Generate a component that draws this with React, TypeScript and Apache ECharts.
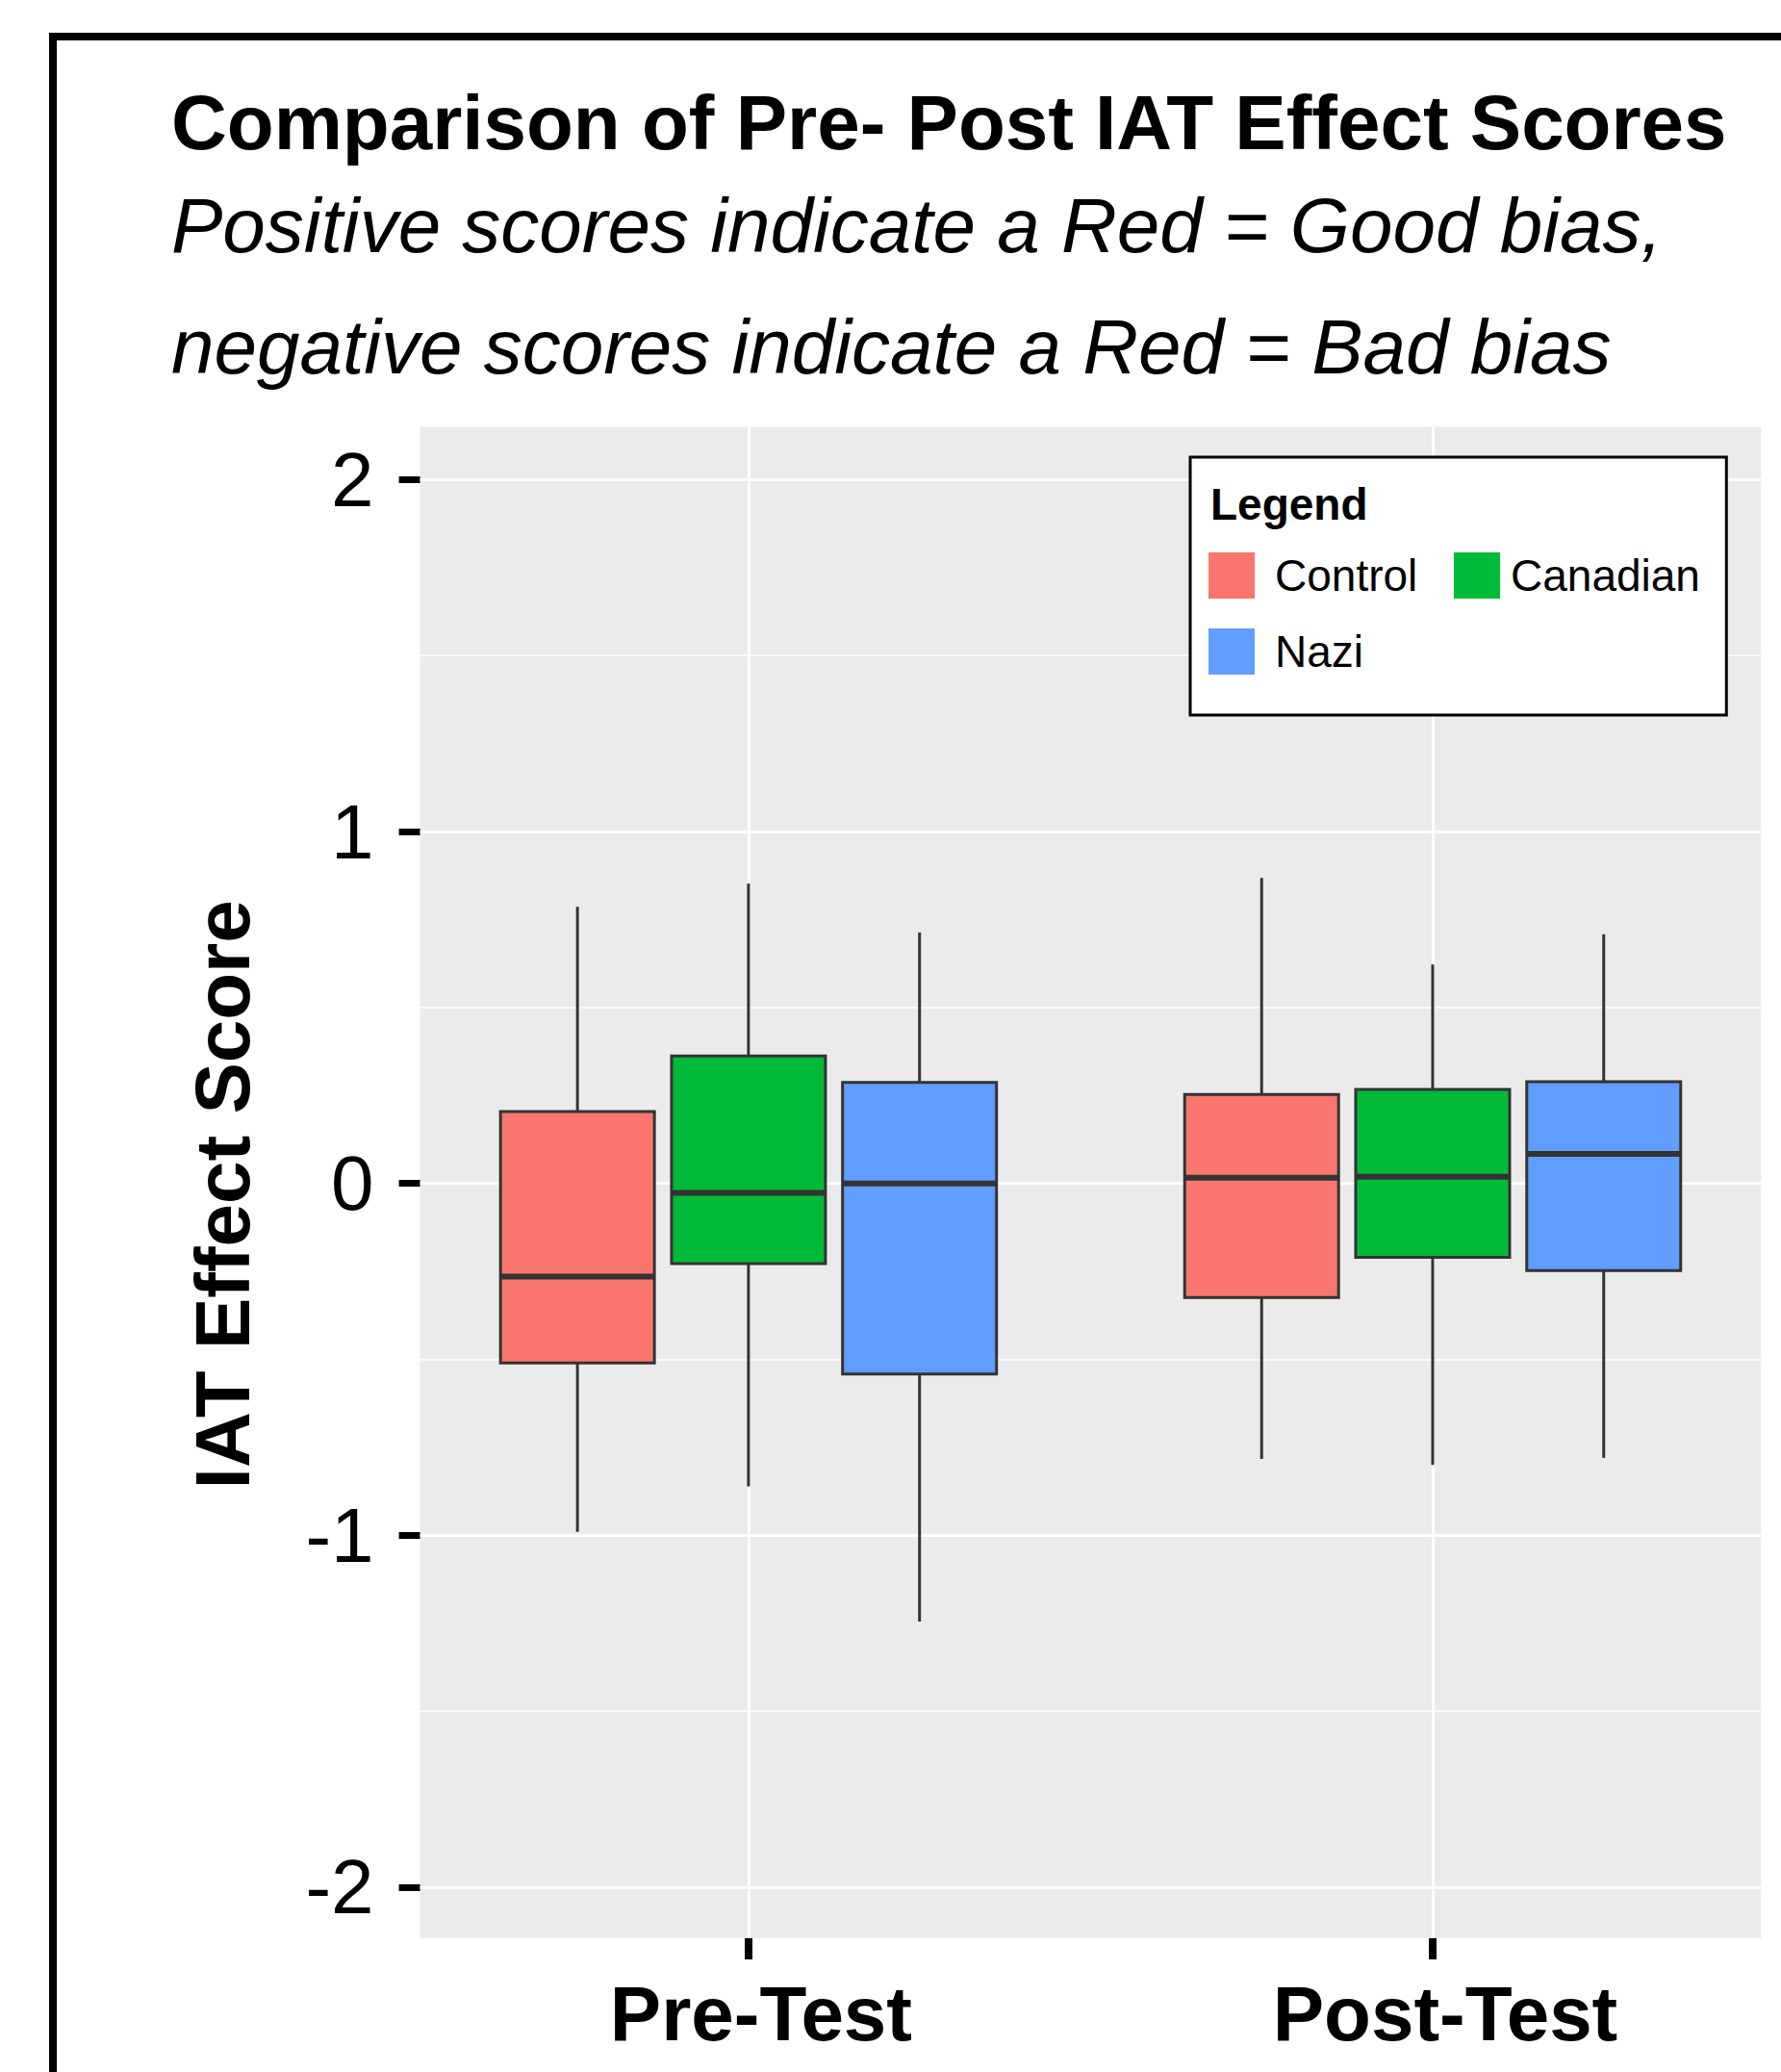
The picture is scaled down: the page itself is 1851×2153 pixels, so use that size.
import React, { useEffect, useRef } from 'react';
import * as echarts from 'echarts';

const FONT = '"Liberation Sans", Arial, Helvetica, sans-serif';

const categories = ['Pre-Test', 'Post-Test'];
const groups = ['Control', 'Canadian', 'Nazi'];
const groupColors = ['#F8766D', '#00BA38', '#619CFF'];
// [min, Q1, median, Q3, max] for Pre-Test and Post-Test
const controlStats = [
  [-0.99, -0.51, -0.265, 0.204, 0.786],
  [-0.783, -0.324, 0.016, 0.253, 0.868],
];
const canadianStats = [
  [-0.861, -0.228, -0.027, 0.362, 0.852],
  [-0.8, -0.21, 0.019, 0.267, 0.622],
];
const naziStats = [
  [-1.245, -0.542, 0.0, 0.287, 0.713],
  [-0.78, -0.248, 0.084, 0.289, 0.708],
];
const yTicks = [-2, -1, 0, 1, 2];
const yMinorGrid = [-1.5, -0.5, 0.5, 1.5];
const xTicks = [0, 1];

const titleText = 'Comparison of Pre- Post IAT Effect Scores';
const subtitleText =
  'Positive scores indicate a Red = Good bias,\nnegative scores indicate a Red = Bad bias';
const yAxisTitle = 'IAT Effect Score';
const legendTitle = 'Legend';

const DODGE = 0.25;
const BOX_W = 0.225;

export default function App() {
  const ref = useRef<HTMLDivElement>(null);

  useEffect(() => {
    if (!ref.current) return;
    const chart = echarts.init(ref.current, null, { renderer: 'svg' });
    const allStats = [controlStats, canadianStats, naziStats];

    const boxSeries = groups.map((g, gi) => ({
      type: 'custom',
      name: g,
      z: 3,
      itemStyle: { color: groupColors[gi] },
      encode: { x: 0, y: [1, 2, 3, 4, 5] },
      data: allStats[gi].map((s, ci) => [ci, ...s]),
      renderItem: (params: any, api: any) => {
        const x = api.value(0) + (gi - 1) * DODGE;
        const lo = api.coord([x, api.value(1)]);
        const q1 = api.coord([x, api.value(2)]);
        const med = api.coord([x, api.value(3)]);
        const q3 = api.coord([x, api.value(4)]);
        const hi = api.coord([x, api.value(5)]);
        const half = api.size([BOX_W, 0])[0] / 2;
        const stroke = '#333333';
        return {
          type: 'group',
          children: [
            {
              type: 'line',
              shape: { x1: hi[0], y1: hi[1], x2: q3[0], y2: q3[1] },
              style: { stroke, lineWidth: 3 },
            },
            {
              type: 'line',
              shape: { x1: q1[0], y1: q1[1], x2: lo[0], y2: lo[1] },
              style: { stroke, lineWidth: 3 },
            },
            {
              type: 'rect',
              shape: { x: q3[0] - half, y: q3[1], width: half * 2, height: q1[1] - q3[1] },
              style: { fill: groupColors[gi], stroke, lineWidth: 3 },
            },
            {
              type: 'line',
              shape: { x1: med[0] - half, y1: med[1], x2: med[0] + half, y2: med[1] },
              style: { stroke, lineWidth: 6 },
            },
          ],
        };
      },
    }));

    const gridLineSeries = [
      {
        type: 'line',
        name: '_minor',
        data: [],
        silent: true,
        markLine: {
          silent: true,
          z: 1,
          symbol: ['none', 'none'],
          label: { show: false },
          lineStyle: { color: '#FFFFFF', width: 1.5, type: 'solid' },
          data: yMinorGrid.map((v) => ({ yAxis: v })),
        },
      },
      {
        type: 'line',
        name: '_major',
        data: [],
        silent: true,
        markLine: {
          silent: true,
          z: 1,
          symbol: ['none', 'none'],
          label: { show: false },
          lineStyle: { color: '#FFFFFF', width: 3, type: 'solid' },
          data: [
            ...yTicks.map((v) => ({ yAxis: v })),
            ...xTicks.map((v) => ({ xAxis: v })),
          ],
        },
      },
    ];

    const legendText = { fontFamily: FONT, fontSize: 46, color: '#000000' };

    chart.setOption({
      animation: false,
      backgroundColor: '#FFFFFF',
      title: {
        text: titleText,
        subtext: subtitleText,
        left: 178,
        top: 87,
        padding: 0,
        itemGap: 4,
        textStyle: {
          fontFamily: FONT,
          fontSize: 80,
          fontWeight: 'bold',
          color: '#000000',
          lineHeight: 80,
        },
        subtextStyle: {
          fontFamily: FONT,
          fontSize: 80,
          fontStyle: 'italic',
          color: '#000000',
          lineHeight: 126,
        },
      },
      grid: {
        left: 436.6,
        right: 20.7,
        top: 443.5,
        bottom: 139,
        show: true,
        backgroundColor: '#EBEBEB',
        borderWidth: 0,
        containLabel: false,
      },
      xAxis: {
        type: 'value',
        min: -0.48,
        max: 1.48,
        position: 'bottom',
        axisLine: { show: false, onZero: false },
        splitLine: { show: false },
        axisTick: {
          show: true,
          length: 22,
          customValues: xTicks,
          lineStyle: { color: '#000000', width: 8 },
        },
        axisLabel: {
          customValues: xTicks,
          formatter: (v: number) => categories[Math.round(v)] ?? '',
          fontFamily: FONT,
          fontSize: 80,
          fontWeight: 'bold',
          color: '#000000',
          margin: 38,
          lineHeight: 80,
          padding: [0, 0, 0, 26],
        },
      },
      yAxis: {
        type: 'value',
        min: -2.145,
        max: 2.15,
        position: 'left',
        name: yAxisTitle,
        nameLocation: 'middle',
        nameRotate: 90,
        nameGap: 165,
        nameTextStyle: {
          fontFamily: FONT,
          fontSize: 80,
          fontWeight: 'bold',
          color: '#000000',
          lineHeight: 80,
          padding: [0, 25, 0, 0],
        },
        axisLine: { show: false, onZero: false },
        splitLine: { show: false },
        axisTick: {
          show: true,
          length: 22,
          customValues: yTicks,
          lineStyle: { color: '#000000', width: 7 },
        },
        axisLabel: {
          customValues: yTicks,
          fontFamily: FONT,
          fontSize: 80,
          color: '#000000',
          margin: 48,
          lineHeight: 80,
          padding: [0, 0, 14, 0],
        },
      },
      legend: [
        {
          left: 1237,
          top: 475,
          orient: 'vertical',
          padding: [99, 321, 42, 19],
          itemGap: 31,
          itemWidth: 48,
          itemHeight: 48,
          icon: 'rect',
          selectedMode: false,
          backgroundColor: '#FFFFFF',
          borderColor: '#000000',
          borderWidth: 3,
          z: 4,
          textStyle: { ...legendText, padding: [0, 0, 0, 16] },
          data: ['Control', 'Nazi'],
        },
        {
          left: 1511,
          top: 574,
          orient: 'horizontal',
          padding: 0,
          itemWidth: 48,
          itemHeight: 48,
          icon: 'rect',
          selectedMode: false,
          z: 6,
          textStyle: { ...legendText, padding: [0, 0, 0, 6] },
          data: ['Canadian'],
        },
      ],
      graphic: [
        {
          type: 'rect',
          silent: true,
          shape: { x: 55, y: 38, width: 1950, height: 2300 },
          style: { fill: 'none', stroke: '#000000', lineWidth: 8 },
          z: 100,
        },
        {
          type: 'text',
          silent: true,
          x: 1258,
          y: 524,
          z: 100,
          style: {
            text: legendTitle,
            font: `bold 46px ${FONT}`,
            fill: '#000000',
            verticalAlign: 'middle',
            align: 'left',
          },
        },
      ],
      series: [...gridLineSeries, ...boxSeries],
    });

    return () => chart.dispose();
  }, []);

  return (
    <div
      ref={ref}
      style={{ position: 'absolute', left: 0, top: 0, width: 1851, height: 2153 }}
    />
  );
}
